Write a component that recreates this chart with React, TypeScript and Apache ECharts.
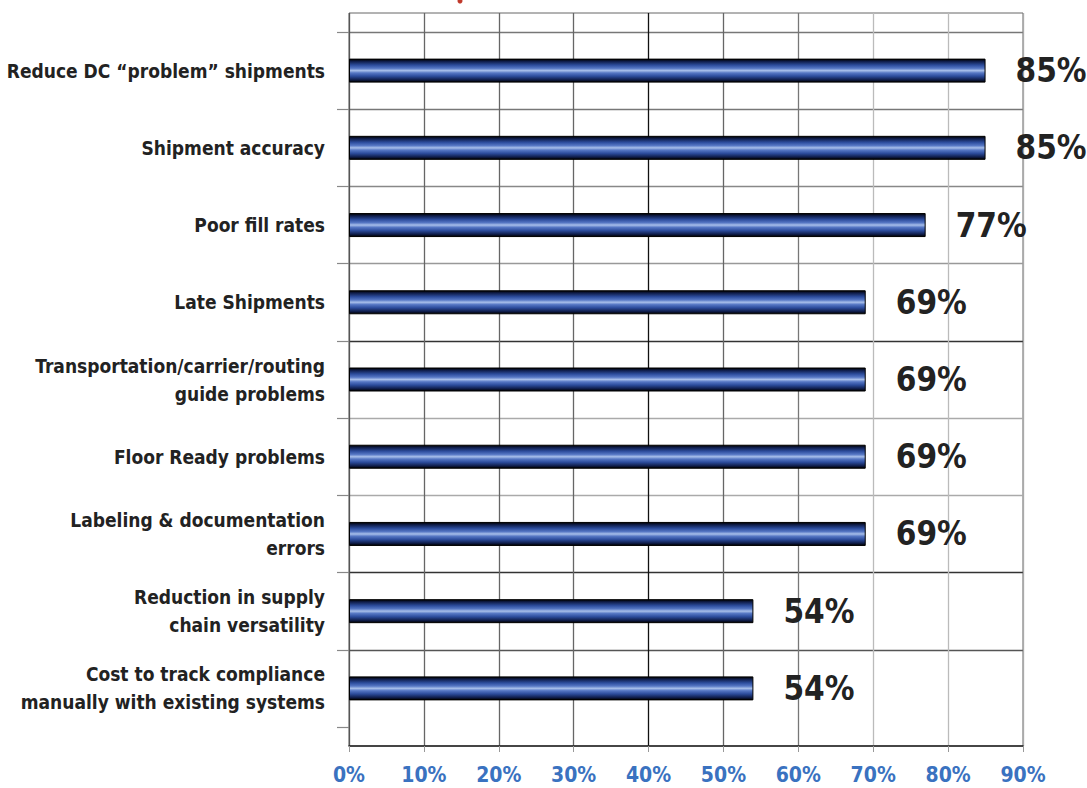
import React, { useEffect, useRef } from "react";
import * as echarts from "echarts";

const categories = [
  "Reduce DC “problem” shipments",
  "Shipment accuracy",
  "Poor fill rates",
  "Late Shipments",
  "Transportation/carrier/routing\nguide problems",
  "Floor Ready problems",
  "Labeling & documentation\nerrors",
  "Reduction in supply\nchain versatility",
  "Cost to track compliance\nmanually with existing systems",
];

const values = [85, 85, 77, 69, 69, 69, 69, 54, 54];

const xTicks = [0, 10, 20, 30, 40, 50, 60, 70, 80, 90];

const FONT = '"Liberation Sans Narrow", "Arial Narrow", "DejaVu Sans Condensed", "Roboto Condensed", sans-serif';

export default function App() {
  const ref = useRef<HTMLDivElement>(null);

  useEffect(() => {
    if (!ref.current) return;
    const chart = echarts.init(ref.current, null, { renderer: "svg" });

    const barGradient = new echarts.graphic.LinearGradient(0, 0, 0, 1, [
      { offset: 0, color: "#000000" },
      { offset: 0.1, color: "#0f1d4a" },
      { offset: 0.26, color: "#2c4c9c" },
      { offset: 0.4, color: "#5677c4" },
      { offset: 0.5, color: "#a8bfea" },
      { offset: 0.6, color: "#5677c4" },
      { offset: 0.74, color: "#2c4c9c" },
      { offset: 0.9, color: "#0f1d4a" },
      { offset: 1, color: "#000000" },
    ]);

    chart.setOption({
      animation: false,
      backgroundColor: "#ffffff",
      grid: [
        {
          left: 349,
          right: 64,
          top: 13,
          bottom: 42,
          show: true,
          borderColor: "#666",
          borderWidth: 1,
          backgroundColor: "transparent",
          outerBoundsMode: "none",
          containLabel: false,
        },
        {
          left: 349,
          right: 64,
          top: 32,
          bottom: 61,
          outerBoundsMode: "none",
          containLabel: false,
        },
      ],
      xAxis: [
        {
          type: "value",
          gridIndex: 0,
          min: xTicks[0],
          max: xTicks[xTicks.length - 1],
          interval: 10,
          axisLine: { show: true, lineStyle: { color: "#222", width: 1.5 } },
          axisTick: { show: true, length: 6, lineStyle: { color: "#999" } },
          splitLine: {
            show: true,
            lineStyle: {
              color: ["#555", "#666", "#666", "#666", "#111", "#666", "#777", "#bbb", "#bbb", "#aaa"],
              width: 1.3,
            },
          },
          axisLabel: {
            formatter: "{value}%",
            color: "#3a72c0",
            fontFamily: FONT,
            fontWeight: "bold",
            fontSize: 21,
            margin: 18,
          },
        },
        {
          type: "value",
          gridIndex: 1,
          min: xTicks[0],
          max: xTicks[xTicks.length - 1],
          show: false,
        },
      ],
      yAxis: [
        {
          type: "value",
          gridIndex: 0,
          show: false,
          splitLine: { show: false },
        },
        {
          type: "category",
          gridIndex: 1,
          data: categories,
          inverse: true,
          axisLine: { show: false },
          axisTick: { show: true, length: 12, lineStyle: { color: "#888", width: 1.2 } },
          splitLine: {
            show: true,
            lineStyle: {
              color: ["#777", "#777", "#888", "#999", "#333", "#aaa", "#aaa", "#333", "#555", "transparent"],
              width: 1.3,
            },
          },
          axisLabel: {
            color: "#222",
            fontFamily: FONT,
            fontWeight: "bold",
            fontSize: 19,
            lineHeight: 28,
            margin: 24,
            align: "right",
          },
        },
      ],
      series: [
        {
          type: "bar",
          xAxisIndex: 1,
          yAxisIndex: 1,
          data: values,
          barWidth: 24,
          itemStyle: {
            color: barGradient,
            borderColor: "#000",
            borderWidth: 1,
          },
          label: {
            show: true,
            position: "right",
            distance: 30,
            formatter: "{c}%",
            color: "#222",
            fontFamily: FONT,
            fontWeight: "bold",
            fontSize: 33,
          },
        },
      ],
      graphic: [
        {
          type: "circle",
          shape: { cx: 460, cy: 1, r: 2.5 },
          style: { fill: "#c0392b" },
        },
      ],
    });

    return () => {
      chart.dispose();
    };
  }, []);

  return (
    <div
      ref={ref}
      style={{ position: "fixed", left: 0, top: 0, width: 1087, height: 788 }}
    />
  );
}
